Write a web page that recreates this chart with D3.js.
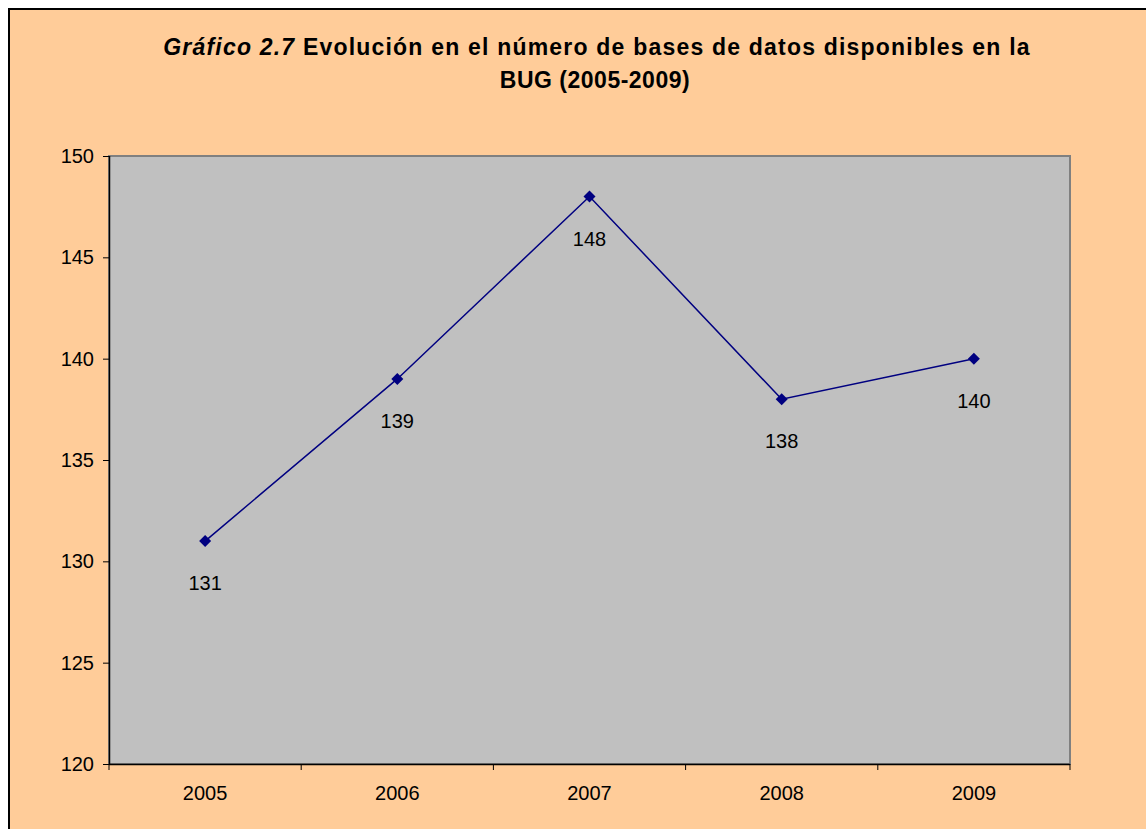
<!DOCTYPE html>
<html><head><meta charset="utf-8">
<script src="https://cdn.jsdelivr.net/npm/d3@7"></script>
<style>html,body{margin:0;padding:0;background:#fff;}svg{display:block;}</style>
</head><body>
<svg id="c" width="1146" height="829"></svg>
<script>
const years = ["2005","2006","2007","2008","2009"];
const values = [131, 139, 148, 138, 140];
const yTicks = [120,125,130,135,140,145,150];

const svg = d3.select("#c");
const W = 1146, H = 829;
svg.append("rect").attr("x",9).attr("y",9).attr("width",W+10).attr("height",H+10)
  .attr("fill","#FFCC99").attr("stroke","#000").attr("stroke-width",2);

const m = {l:109, t:156, r:1070, b:764};
const x = d3.scaleBand().domain(years).range([m.l, m.r]).padding(0);
const y = d3.scaleLinear().domain([120,150]).range([m.b, m.t]);

svg.append("rect").attr("x",m.l).attr("y",m.t).attr("width",m.r-m.l).attr("height",m.b-m.t)
  .attr("fill","#C0C0C0").attr("stroke","#808080").attr("stroke-width",2);

const font = "Arial, 'Liberation Sans', sans-serif";
const title = svg.append("text").attr("text-anchor","middle").attr("font-family",font)
  .attr("font-weight","bold").attr("font-size",23).attr("fill","#000");
const t1 = title.append("tspan").attr("x",597).attr("y",55).attr("letter-spacing",1.2);
t1.append("tspan").attr("font-style","italic").text("Gráfico 2.7");
t1.append("tspan").text(" Evolución en el número de bases de datos disponibles en la");
title.append("tspan").attr("x",595).attr("y",88).attr("letter-spacing",0.5).text("BUG (2005-2009)");

// Y axis
const yAxis = svg.append("g").attr("transform",`translate(${m.l},0)`)
  .call(d3.axisLeft(y).tickValues(yTicks).tickSize(6).tickPadding(9).tickFormat(d3.format("d")));
yAxis.selectAll("path").attr("stroke","#000").attr("stroke-width",1.5);
yAxis.select(".domain").attr("d",`M0.5,${m.t}V${m.b}`);
yAxis.selectAll("line").attr("stroke","#000");
yAxis.selectAll("text").attr("font-family",font).attr("font-size",20).attr("fill","#000");

// X axis
const xAxis = svg.append("g").attr("transform",`translate(0,${m.b})`)
  .call(d3.axisBottom(x).tickSize(0).tickPadding(22));
xAxis.select(".domain").attr("stroke","#000").attr("stroke-width",1.5).attr("d",`M${m.l},0.5H${m.r}`);
xAxis.selectAll("text").attr("font-family",font).attr("font-size",20).attr("fill","#000");
const bounds = years.map(d=>x(d)).concat([x(years[years.length-1])+x.bandwidth()]);
xAxis.selectAll(".bt").data(bounds).enter().append("line").attr("class","bt")
  .attr("x1",d=>d).attr("x2",d=>d).attr("y1",0).attr("y2",6).attr("stroke","#000");

const cx = d => x(d)+x.bandwidth()/2;
const line = d3.line().x((d,i)=>cx(years[i])).y(d=>y(d));
svg.append("path").datum(values).attr("d",line).attr("fill","none")
  .attr("stroke","#000080").attr("stroke-width",1.5);

svg.selectAll(".mk").data(values).enter().append("path")
  .attr("d",d3.symbol().type(d3.symbolSquare).size(72))
  .attr("transform",(d,i)=>`translate(${cx(years[i])},${y(d)}) rotate(45)`)
  .attr("fill","#000080");

svg.selectAll(".lb").data(values).enter().append("text")
  .attr("x",(d,i)=>cx(years[i])).attr("y",d=>y(d)+49)
  .attr("text-anchor","middle").attr("font-family",font).attr("font-size",20)
  .text(d=>d);
</script>
</body></html>
